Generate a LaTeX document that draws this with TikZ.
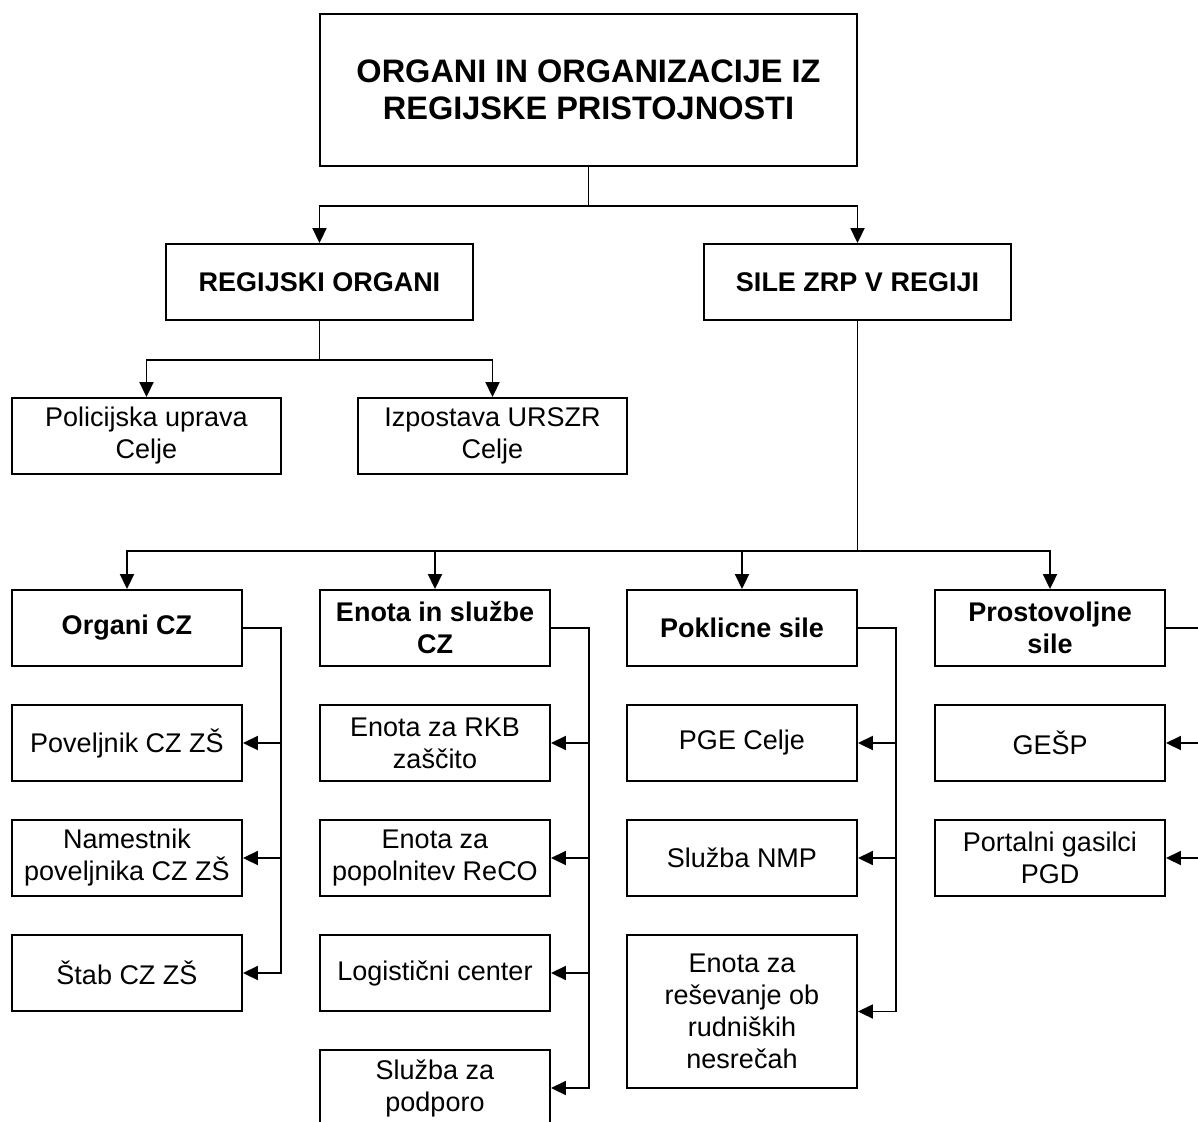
\documentclass[tikz,border=0pt]{standalone}
\usepackage{fontspec}
\setmainfont{Liberation Sans}
\usetikzlibrary{arrows.meta,calc}
\begin{document}
\begin{tikzpicture}[x=1pt,y=-1pt,
  ln/.style={line width=1.9pt, line join=miter},
  arr/.style={ln, -{Triangle[length=15pt,width=14pt]}},
  box/.style={draw, line width=1.9pt, minimum height=76pt, inner sep=0pt, align=center,
    font=\fontsize{27}{32}\selectfont},
  bbox/.style={box, font=\bfseries\fontsize{27}{32}\selectfont},
  w3/.style={minimum width=230pt}
]
\useasboundingbox (0,0) rectangle (1198,1121);
\clip (0,0) rectangle (1198,1121);
\fill[white] (0,0) rectangle (1198,1121);

% top levels
\node[box, minimum width=537pt, minimum height=152pt,
  font=\bfseries\fontsize{32.5}{37}\selectfont] (top) at (588.5,90)
  {ORGANI IN ORGANIZACIJE IZ\\REGIJSKE PRISTOJNOSTI};
\node[bbox, minimum width=307pt] (reg) at (319.5,282) {REGIJSKI ORGANI};
\node[bbox, minimum width=307pt] (sile) at (857.5,282) {SILE ZRP V REGIJI};
\node[box, minimum width=269pt] (pol) at (146.5,436) {Policijska uprava\\Celje};
\node[box, minimum width=269pt] (izp) at (492.5,436) {Izpostava URSZR\\Celje};

% level 3
\node[bbox, w3] (ocz) at (127,628) {Organi CZ};
\node[bbox, w3] (ens) at (435,628) {Enota in službe\\CZ};
\node[bbox, w3] (pok) at (742,628) {Poklicne sile};
\node[bbox, w3] (pro) at (1050,628) {Prostovoljne\\sile};

% children
\node[box, w3] (a1) at (127,743) {Poveljnik CZ ZŠ};
\node[box, w3] (a2) at (127,858) {Namestnik\\poveljnika CZ ZŠ};
\node[box, w3] (a3) at (127,973) {Štab CZ ZŠ};

\node[box, w3] (b1) at (435,743) {Enota za RKB\\zaščito};
\node[box, w3] (b2) at (435,858) {Enota za\\popolnitev ReCO};
\node[box, w3] (b3) at (435,973) {Logistični center};
\node[box, w3] (b4) at (435,1088) {Služba za\\podporo};

\node[box, w3] (c1) at (742,743) {PGE Celje};
\node[box, w3] (c2) at (742,858) {Služba NMP};
\node[box, w3, minimum height=153pt] (c3) at (742,1011.5) {Enota za\\reševanje ob\\rudniških\\nesrečah};

\node[box, w3] (d1) at (1050,743) {GEŠP};
\node[box, w3] (d2) at (1050,858) {Portalni gasilci\\PGD};

% buses
\coordinate (ba) at (281,628);
\coordinate (bb) at (589,628);
\coordinate (bc) at (896,628);
\coordinate (bd) at (1204,628);

% connectors
\draw[arr] (top.south) -- ++(0,39) -| (reg.north);
\draw[arr] (top.south) -- ++(0,39) -| (sile.north);
\draw[arr] (reg.south) -- ++(0,39) -| (pol.north);
\draw[arr] (reg.south) -- ++(0,39) -| (izp.north);
\foreach \t in {ocz,ens,pok,pro}
  \draw[arr] (sile.south) -- ++(0,230) -| (\t.north);

\draw[arr] (ocz.east) -- (ba) |- (a3.east);
\draw[arr] (ba |- a1.east) -- (a1.east);
\draw[arr] (ba |- a2.east) -- (a2.east);

\draw[arr] (ens.east) -- (bb) |- (b4.east);
\draw[arr] (bb |- b1.east) -- (b1.east);
\draw[arr] (bb |- b2.east) -- (b2.east);
\draw[arr] (bb |- b3.east) -- (b3.east);

\draw[arr] (pok.east) -- (bc) |- (c3.east);
\draw[arr] (bc |- c1.east) -- (c1.east);
\draw[arr] (bc |- c2.east) -- (c2.east);

\draw[arr] (pro.east) -- (bd) |- (d2.east);
\draw[arr] (bd |- d1.east) -- (d1.east);
\end{tikzpicture}
\end{document}
